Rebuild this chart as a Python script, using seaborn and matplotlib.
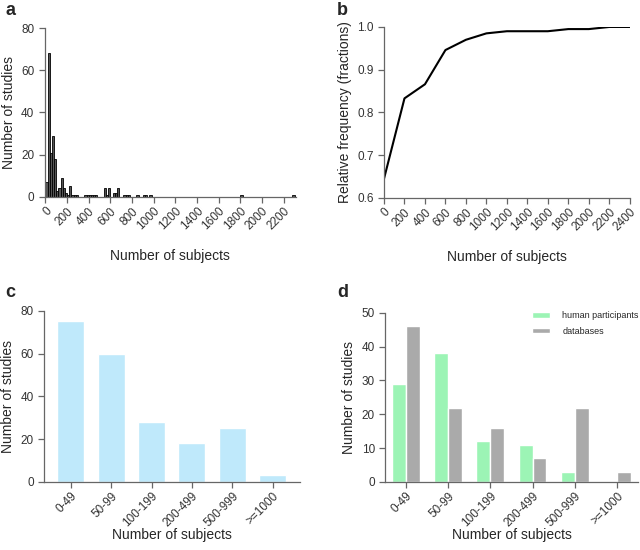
import numpy as np
import pandas as pd
import matplotlib
matplotlib.use("Agg")
import matplotlib.pyplot as plt
import seaborn as sns

# panel a: histogram of study sizes (bin start, width 20)
hist_bins = [0, 20, 40, 60, 80, 100, 120, 140, 160, 180, 200, 220, 240, 260, 280,
             360, 380, 400, 420, 440, 460, 540, 560, 580, 620, 640, 660,
             720, 740, 760, 840, 900, 920, 960, 1800, 2280]
hist_counts = [7, 68, 21, 29, 18, 3, 4, 9, 4, 2, 1, 5, 1, 1, 1,
               1, 1, 1, 1, 1, 1, 4, 1, 4, 2, 2, 4,
               1, 1, 1, 1, 1, 1, 1, 1, 1]

# panel b: cumulative relative frequency
cdf_x = [0, 200, 400, 600, 800, 1000, 1200, 1400, 1600, 1800, 2000, 2200, 2400]
cdf_y = [0.645, 0.833, 0.866, 0.946, 0.970, 0.985, 0.990, 0.990, 0.990, 0.995, 0.995, 1.0, 1.0]

# panels c and d: grouped sizes
groups = ["0-49", "50-99", "100-199", "200-499", "500-999", ">=1000"]
all_studies = [75, 60, 28, 18, 25, 3]
human = [29, 38, 12, 11, 3, 0]
databases = [46, 22, 16, 7, 22, 3]

sns.set_style("ticks")
plt.rcParams["font.family"] = ["Liberation Sans", "DejaVu Sans"]
plt.rcParams["axes.edgecolor"] = "#666666"
plt.rcParams["xtick.color"] = "#666666"
plt.rcParams["ytick.color"] = "#666666"
plt.rcParams["xtick.labelcolor"] = "#333333"
plt.rcParams["ytick.labelcolor"] = "#333333"

fig = plt.figure(figsize=(6.4, 5.5), dpi=100)
ax_a = fig.add_axes([0.070, 0.642, 0.392, 0.307])
ax_b = fig.add_axes([0.600, 0.640, 0.384, 0.311])
ax_c = fig.add_axes([0.069, 0.124, 0.400, 0.311])
ax_d = fig.add_axes([0.602, 0.124, 0.395, 0.307])

lab_fs = 10
tick_fs = 8.5

def style(ax):
    sns.despine(ax=ax)
    ax.tick_params(length=4, width=0.9, labelsize=tick_fs)
    ax.tick_params(axis="x", pad=2)
    for s in ax.spines.values():
        s.set_linewidth(0.9)
    plt.setp(ax.get_xticklabels(), rotation=45, ha="right", va="top",
             rotation_mode="anchor")

# a
df_a = pd.DataFrame({"size": np.array(hist_bins) + 10, "count": hist_counts})
sns.histplot(data=df_a, x="size", weights="count", binwidth=20, binrange=(0, 2300),
             ax=ax_a, color="#555555", edgecolor="black", linewidth=0.6, alpha=1)
ax_a.set_xlim(-5, 2310)
ax_a.set_ylim(0, 80)
ax_a.set_xticks(range(0, 2201, 200))
ax_a.set_yticks(range(0, 81, 20))
ax_a.set_xlabel("Number of subjects", fontsize=lab_fs, labelpad=12)
ax_a.set_ylabel("Number of studies", fontsize=lab_fs)
style(ax_a)

# b
sns.lineplot(x=cdf_x, y=cdf_y, ax=ax_b, color="black", linewidth=1.5)
ax_b.set_xlim(0, 2400)
ax_b.set_ylim(0.6, 1.0)
ax_b.set_xticks(range(0, 2401, 200))
ax_b.set_yticks([0.6, 0.7, 0.8, 0.9, 1.0])
ax_b.set_xlabel("Number of subjects", fontsize=lab_fs, labelpad=12)
ax_b.set_ylabel("Relative frequency (fractions)", fontsize=lab_fs)
style(ax_b)

# c
df_c = pd.DataFrame({"group": groups, "n": all_studies})
sns.barplot(data=df_c, x="group", y="n", ax=ax_c, color="#bfe9fb",
            width=0.67, saturation=1)
ax_c.set_xlim(-0.66, 5.68)
ax_c.set_ylim(0, 80)
ax_c.set_yticks(range(0, 81, 20))
ax_c.set_xlabel("Number of subjects", fontsize=lab_fs, labelpad=-1)
ax_c.set_ylabel("Number of studies", fontsize=lab_fs)
style(ax_c)

# d
df_d = pd.DataFrame({
    "group": groups * 2,
    "n": human + databases,
    "source": ["human participants"] * 6 + ["databases"] * 6,
})
sns.barplot(data=df_d, x="group", y="n", hue="source", ax=ax_d,
            palette=["#9cf4b5", "#aaaaaa"], width=0.66, gap=0, saturation=1)
ax_d.set_xlim(-0.49, 5.5)
ax_d.set_ylim(0, 50)
ax_d.set_yticks(range(0, 51, 10))
ax_d.set_xlabel("Number of subjects", fontsize=lab_fs, labelpad=-1)
ax_d.set_ylabel("Number of studies", fontsize=lab_fs)
style(ax_d)
ax_d.legend(title=None, frameon=False, fontsize=6.5, loc="upper right",
            bbox_to_anchor=(1.035, 1.06), handlelength=2.0, handleheight=0.6,
            labelspacing=0.75, handletextpad=1.4)

for x, y, t in [(0.008, 0.9727, "a"), (0.527, 0.9727, "b"),
                (0.008, 0.46, "c"), (0.527, 0.46, "d")]:
    fig.text(x, y, t, fontsize=13, fontweight="bold", va="baseline")

fig.savefig("out.png", dpi=100)
